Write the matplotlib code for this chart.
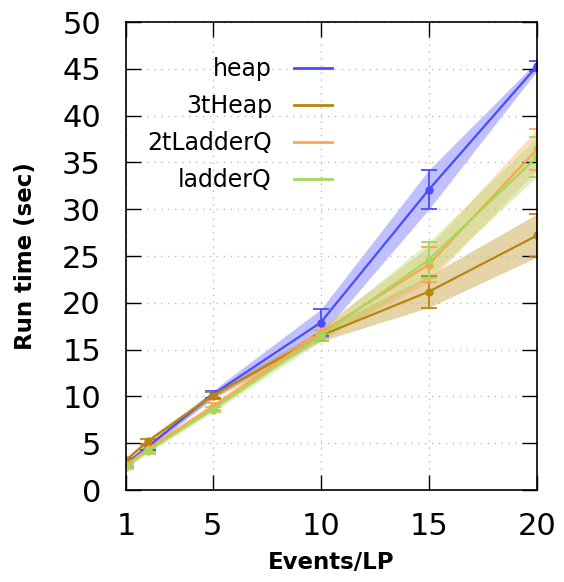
import numpy as np
import matplotlib
matplotlib.use('Agg')
import matplotlib.pyplot as plt
from matplotlib.lines import Line2D

# events per LP
events = [1, 2, 5, 10, 15, 20]

heap = [2.8, 4.6, 10.2, 17.9, 32.1, 45.3]
heap_err = [0.3, 0.3, 0.4, 1.4, 2.1, 0.5]

three_t_heap = [3.2, 5.2, 10.1, 16.5, 21.2, 27.2]
three_t_heap_err = [0.2, 0.3, 0.4, 0.6, 1.7, 2.3]

two_t_ladder = [2.7, 4.4, 8.9, 16.8, 24.1, 36.4]
two_t_ladder_err = [0.2, 0.3, 0.4, 0.6, 1.9, 2.2]

ladder = [2.5, 4.2, 8.6, 16.5, 24.6, 35.6]
ladder_err = [0.2, 0.3, 0.3, 0.6, 1.9, 2.1]

series = [
    ('heap', heap, heap_err, '#4b4bff'),
    ('3tHeap', three_t_heap, three_t_heap_err, '#b8860b'),
    ('2tLadderQ', two_t_ladder, two_t_ladder_err, '#ffa54f'),
    ('ladderQ', ladder, ladder_err, '#a2d95e'),
]

fig = plt.figure(figsize=(5.64, 5.82), dpi=100)
ax = fig.add_axes([0.2234, 0.158, 0.7287, 0.804])

handles = []
for name, vals, errs, color in series:
    vals = np.array(vals)
    errs = np.array(errs)
    ax.fill_between(events, vals - errs, vals + errs, color=color, alpha=0.35, lw=0)
    ax.errorbar(events, vals, yerr=errs, color=color, lw=1.6, marker='o', ms=5,
                capsize=6, capthick=1.3, elinewidth=1.3)
    handles.append(Line2D([], [], color=color, lw=2))

ax.set_xlim(1, 20)
ax.set_ylim(0, 50)
ax.set_xticks([1, 5, 10, 15, 20])
ax.set_yticks(range(0, 51, 5))
ax.tick_params(direction='in', length=11, width=1, top=True, right=True,
               labelsize=22)
ax.tick_params(axis='y', pad=18)
ax.tick_params(axis='x', pad=16)
ax.grid(True, linestyle=(0, (1, 4)), color='#bbbbbb', lw=1)
for s in ax.spines.values():
    s.set_linewidth(1.2)

ax.set_xlabel('Events/LP', fontsize=16.5, fontweight='bold', labelpad=7)
ax.set_ylabel('Run time (sec)', fontsize=16.5, fontweight='bold', labelpad=18)

ax.legend(handles, [s[0] for s in series], loc='upper left',
          bbox_to_anchor=(0.0, 0.97), frameon=False, markerfirst=False,
          fontsize=17, handlelength=1.6, labelspacing=0.55, handletextpad=0.95)

fig.savefig('out.png', dpi=100)
